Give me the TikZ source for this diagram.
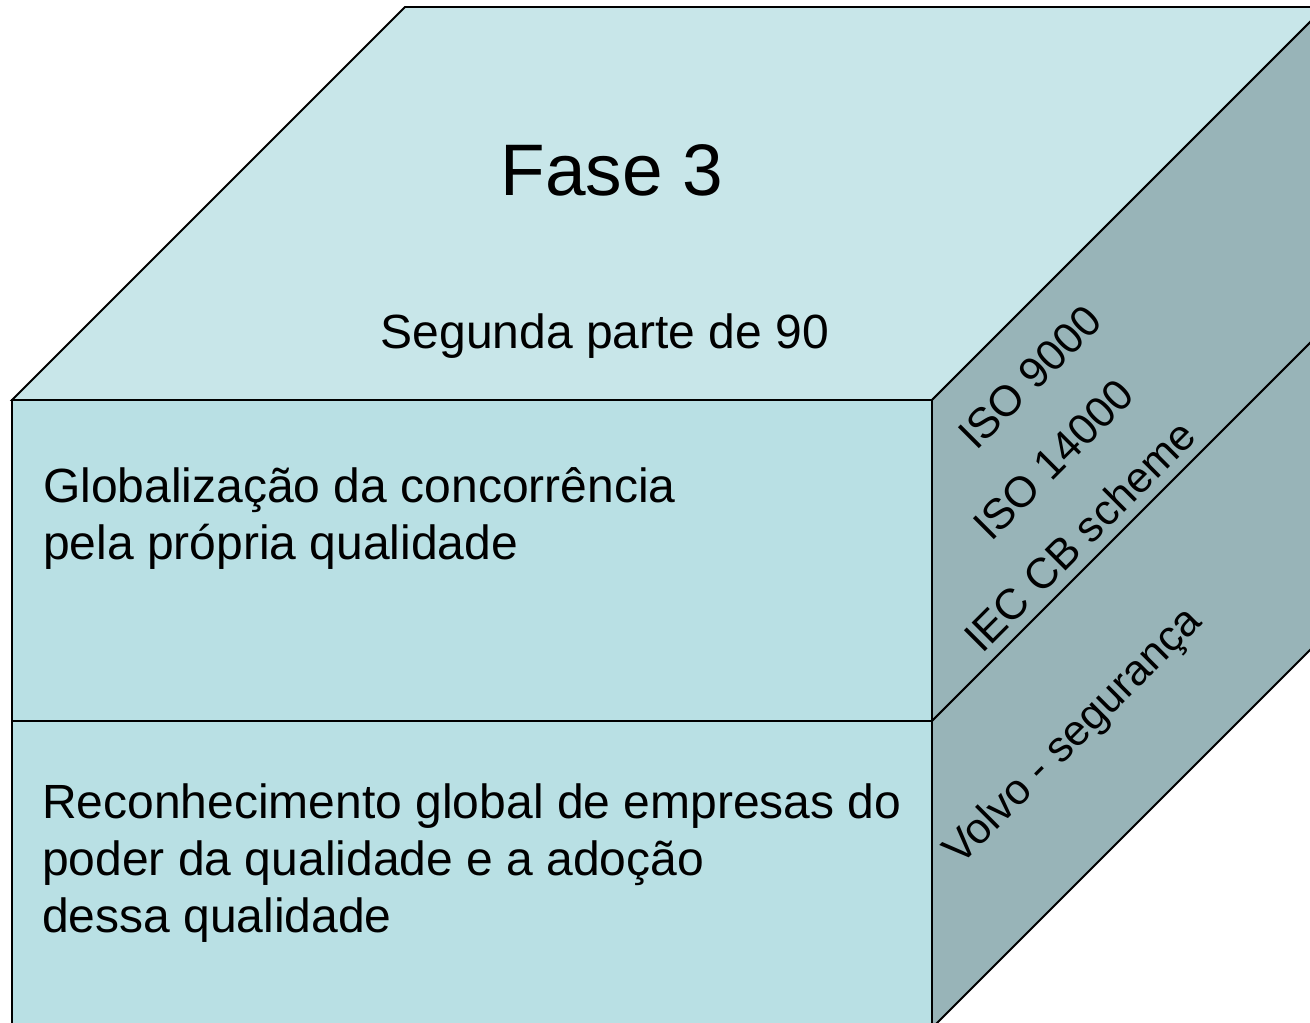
\documentclass[tikz,border=0pt]{standalone}
\usepackage{fontspec}
\setmainfont{Liberation Sans}
\definecolor{topc}{RGB}{200,230,233}
\definecolor{frontc}{RGB}{185,224,228}
\definecolor{sidec}{RGB}{152,180,184}
\tikzset{
  face/.style={draw=black, line width=1.8pt, line join=miter},
  bigtxt/.style={inner sep=0pt, font=\fontsize{73}{80}\selectfont},
  midtxt/.style={inner sep=0pt, font=\fontsize{48}{57}\selectfont},
  sidetxt/.style={inner sep=0pt, rotate=45, anchor=base west, font=\fontsize{43}{50}\selectfont}
}
\begin{document}
\begin{tikzpicture}[x=1pt, y=-1pt]
\useasboundingbox (0,0) rectangle (1310,1023);
\clip (0,0) rectangle (1310,1023);
% top face
\draw[face, fill=topc] (12,400) -- (405,7) -- (1325,7) -- (932,400) -- cycle;
% right face (two parts)
\draw[face, fill=sidec] (932,400) -- (1325,7) -- (1325,328) -- (932,721) -- cycle;
\draw[face, fill=sidec] (932,721) -- (1325,328) -- (1325,635) -- (932,1028) -- cycle;
% front face (two parts)
\draw[face, fill=frontc] (12,400) rectangle (932,721);
\draw[face, fill=frontc] (12,721) rectangle (932,1028);
% texts
\node[bigtxt, anchor=base] (fase) at (612,195) {Fase 3};
\node[midtxt, anchor=base] (seg) at (605,348) {Segunda parte de 90};
\node[midtxt, anchor=base west] (glob) at (43,502) {\fontsize{48}{57}\selectfont\begin{tabular}[t]{@{}l@{}}Globalização da concorrência\\pela própria qualidade\end{tabular}};
\node[midtxt, anchor=base west] (recon) at (42,818) {\fontsize{48}{57}\selectfont\begin{tabular}[t]{@{}l@{}}Reconhecimento global de empresas do\\poder da qualidade e a adoção\\dessa qualidade\end{tabular}};
\node[sidetxt] (iso9) at (976,452) {ISO 9000};
\node[sidetxt] (iso14) at (991,543) {ISO 14000};
\node[sidetxt] (iec) at (982,655) {IEC CB scheme};
\node[sidetxt] (volvo) at (960,867) {Volvo - segurança};
\end{tikzpicture}
\end{document}
